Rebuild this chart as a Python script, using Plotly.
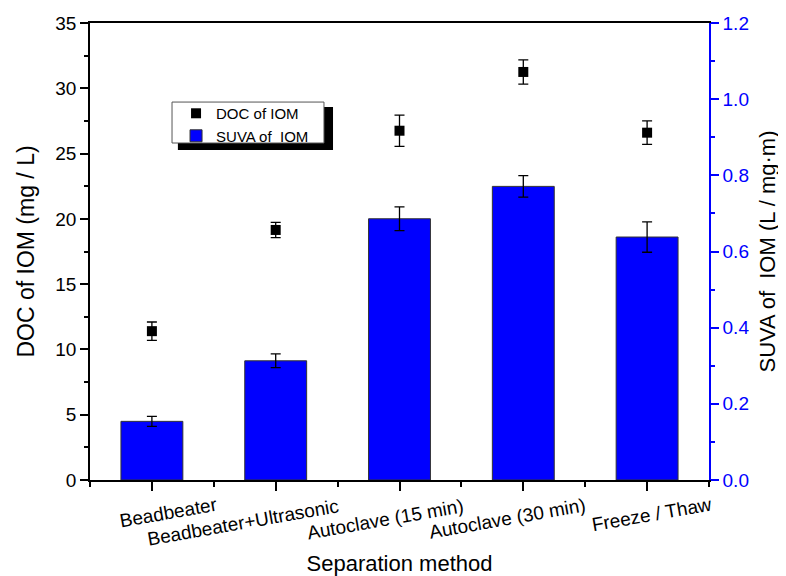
import plotly.graph_objects as go

# ---- data ----
categories = ["Beadbeater", "Beadbeater+Ultrasonic", "Autoclave (15 min)",
              "Autoclave (30 min)", "Freeze / Thaw"]
doc_values = [11.4, 19.15, 26.75, 31.25, 26.6]
doc_errors = [0.7, 0.58, 1.2, 0.93, 0.9]
suva_values = [0.154, 0.313, 0.686, 0.771, 0.638]
suva_errors = [0.013, 0.018, 0.031, 0.028, 0.040]
left_ticks = [0, 5, 10, 15, 20, 25, 30, 35]
right_ticks = [0.0, 0.2, 0.4, 0.6, 0.8, 1.0, 1.2]

# ---- layout-only offsets for the slanted category labels (pixels) ----
label_xshift = [17, -33, -15, -16, 4]
label_yshift = [-32, -42, -39, -38, -34]

FONT = "Liberation Sans, Arial, sans-serif"
BLUE = "#0000ff"

xpos = list(range(len(categories)))

fig = go.Figure()

fig.add_trace(go.Bar(
    x=xpos, y=suva_values, yaxis="y2", name="SUVA of  IOM",
    width=0.5,
    marker=dict(color=BLUE, line=dict(color="#333333", width=1)),
    error_y=dict(type="data", array=suva_errors, color="black",
                 thickness=1.3, width=5),
    legendrank=2,
))

fig.add_trace(go.Scatter(
    x=xpos, y=doc_values, mode="markers", name="DOC of IOM",
    marker=dict(symbol="square", size=10, color="black"),
    error_y=dict(type="data", array=doc_errors, color="black",
                 thickness=1.3, width=5),
    legendrank=1,
))

annotations = []
for i, lab in enumerate(categories):
    annotations.append(dict(
        x=xpos[i], y=0, xref="x", yref="paper", text=lab, showarrow=False,
        textangle=-10, xanchor="center", yanchor="middle",
        xshift=label_xshift[i], yshift=label_yshift[i],
        font=dict(family=FONT, size=19, color="black"),
    ))

fig.update_layout(
    width=778, height=568,
    margin=dict(l=82, r=77, t=15, b=96, autoexpand=False),
    paper_bgcolor="white", plot_bgcolor="white",
    font=dict(family=FONT, size=19, color="black"),
    showlegend=True,
    legend=dict(x=0.139, y=0.838, xanchor="left", yanchor="top",
                bgcolor="rgba(0,0,0,0)", borderwidth=0,
                font=dict(family=FONT, size=15, color="black"),
                tracegroupgap=0, traceorder="normal"),
    xaxis=dict(
        range=[-0.5, 4.5], tickvals=xpos, showticklabels=False,
        ticks="outside", ticklen=9, tickwidth=1.5, tickcolor="black",
        minor=dict(tick0=-0.5, dtick=1, ticks="outside", ticklen=5,
                   tickwidth=1.5, tickcolor="black"),
        showline=True, linecolor="black", linewidth=1.5, mirror=True,
        showgrid=False, zeroline=False, automargin=False,
        title=dict(text="Separation method", font=dict(size=22), standoff=69),
    ),
    yaxis=dict(
        range=[0, 35], tickvals=left_ticks, ticks="outside", ticklen=8,
        tickwidth=1.5, tickcolor="black",
        minor=dict(dtick=2.5, ticks="outside", ticklen=4, tickwidth=1.5,
                   tickcolor="black"),
        showline=True, linecolor="black", linewidth=1.5,
        showgrid=False, zeroline=False, automargin=False,
        tickfont=dict(size=19, color="black"),
        title=dict(text="DOC of IOM (mg / L)", font=dict(size=23), standoff=14),
    ),
    yaxis2=dict(
        range=[0, 1.2], tickvals=right_ticks, tickformat=".1f",
        overlaying="y", side="right", anchor="x",
        ticks="outside", ticklen=8, tickwidth=1.5, tickcolor=BLUE,
        minor=dict(dtick=0.1, ticks="outside", ticklen=4, tickwidth=1.5,
                   tickcolor=BLUE),
        showline=True, linecolor=BLUE, linewidth=1.5,
        showgrid=False, zeroline=False, automargin=False,
        tickfont=dict(size=19, color=BLUE),
        title=dict(text="SUVA of  IOM (L / mg·m)",
                   font=dict(size=22, color="black"), standoff=11),
    ),
    annotations=annotations,
    shapes=[
        # legend drop shadow
        dict(type="rect", xref="paper", yref="paper",
             x0=0.142, x1=0.3926, y0=0.722, y1=0.816,
             fillcolor="black", line=dict(width=0), layer="above"),
        # legend frame
        dict(type="rect", xref="paper", yref="paper",
             x0=0.1325, x1=0.378, y0=0.7374, y1=0.827,
             fillcolor="white", line=dict(color="#555555", width=1),
             layer="above"),
    ],
)

fig.write_html("out.html")
